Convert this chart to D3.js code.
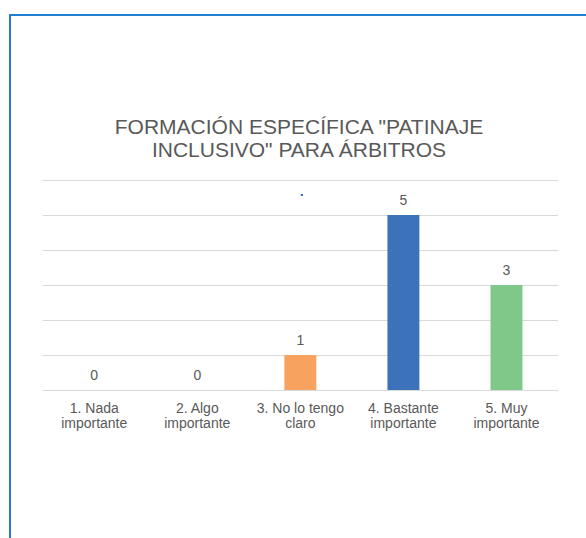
<!DOCTYPE html>
<html>
<head>
<meta charset="utf-8">
<script src="https://cdn.jsdelivr.net/npm/d3@7"></script>
<style>
  body { margin: 0; background: #fff; }
  text { font-family: "Liberation Sans", Arial, sans-serif; fill: #595959; }
</style>
</head>
<body>
<div id="chart"></div>
<script>
var categories = ["1. Nada importante", "2. Algo importante", "3. No lo tengo claro", "4. Bastante importante", "5. Muy importante"];
var tickLabels = [["1. Nada", "importante"], ["2. Algo", "importante"], ["3. No lo tengo", "claro"], ["4. Bastante", "importante"], ["5. Muy", "importante"]];
var values = [0, 0, 1, 5, 3];
var colors = ["#4472c4", "#ed7d31", "#f7a35f", "#3b72b9", "#80c78a"];
var titleLines = ["FORMACIÓN ESPECÍFICA \"PATINAJE", "INCLUSIVO\" PARA ÁRBITROS"];
var yTicks = [0, 1, 2, 3, 4, 5, 6];

var width = 586, height = 538;

var svg = d3.select("#chart")
  .append("svg")
    .attr("width", width)
    .attr("height", height);

// frame (runs off the right and bottom edges)
svg.append("rect")
  .attr("x", 10)
  .attr("y", 15)
  .attr("width", 620)
  .attr("height", 560)
  .attr("fill", "none")
  .attr("stroke", "#1f80d2")
  .attr("stroke-width", 2);

var x = d3.scaleBand()
  .domain(categories)
  .range([42.7, 558])
  .paddingInner(0.69)
  .paddingOuter(0.345);

var y = d3.scaleLinear()
  .domain([0, 6])
  .range([390, 180]);

// gridlines
var grid = svg.append("g")
  .attr("transform", "translate(42.7,0)")
  .call(d3.axisLeft(y).tickValues(yTicks).tickSize(-(558 - 42.7)).tickFormat(""));
grid.select(".domain").remove();
grid.selectAll(".tick line").attr("stroke", "#d9d9d9").attr("stroke-width", 1);

// bars
svg.selectAll(".bar")
  .data(values)
  .enter().append("rect")
    .attr("class", "bar")
    .attr("x", (d, i) => x(categories[i]))
    .attr("y", d => y(d))
    .attr("width", x.bandwidth())
    .attr("height", d => y(0) - y(d))
    .attr("fill", (d, i) => colors[i]);

// value labels
svg.selectAll(".val")
  .data(values)
  .enter().append("text")
    .attr("class", "val")
    .attr("x", (d, i) => x(categories[i]) + x.bandwidth() / 2)
    .attr("y", d => y(d) - 10.5)
    .attr("text-anchor", "middle")
    .style("font-size", "14px")
    .text(d => d);

// category labels
var xAxis = svg.append("g")
  .attr("transform", "translate(0,390)")
  .call(d3.axisBottom(x).tickSize(0).tickFormat(""));
xAxis.select(".domain").remove();
xAxis.selectAll(".tick").each(function(d, i) {
  var t = d3.select(this).append("text")
    .attr("text-anchor", "middle")
    .style("font-size", "14px");
  tickLabels[i].forEach(function(line, j) {
    t.append("tspan")
      .attr("x", 0)
      .attr("y", 23 + j * 15)
      .text(line);
  });
});

// stray dot seen above the third bar
svg.append("rect")
  .attr("x", x(categories[2]) + x.bandwidth() / 2 + 0.5)
  .attr("y", y(5.6))
  .attr("width", 2)
  .attr("height", 2)
  .attr("fill", "#2a66c8");

// title
svg.append("g").selectAll("text")
  .data(titleLines)
  .enter().append("text")
    .attr("x", 299)
    .attr("y", (d, i) => 133.5 + i * 23)
    .attr("text-anchor", "middle")
    .style("font-size", "21px")
    .text(d => d);
</script>
</body>
</html>
